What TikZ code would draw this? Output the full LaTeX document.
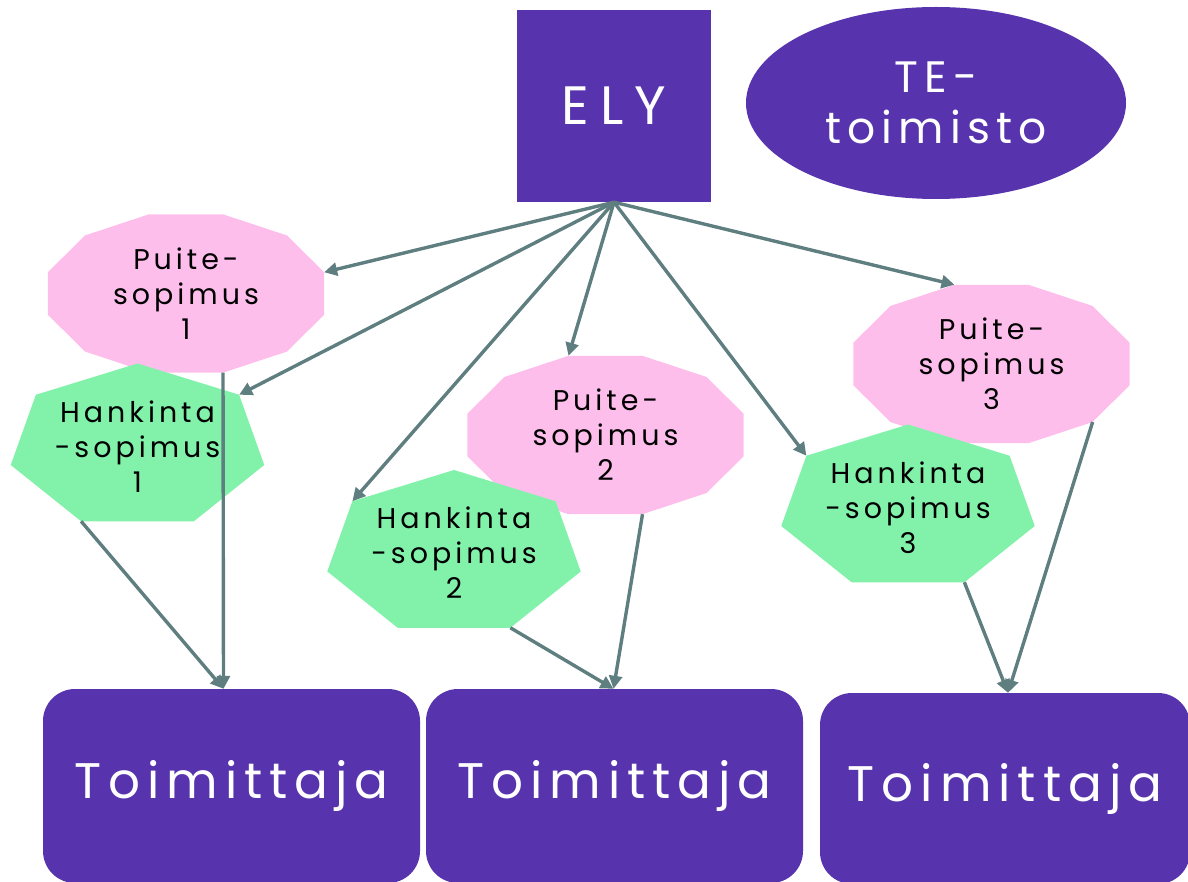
\documentclass[tikz,border=0pt]{standalone}
\usepackage{fontspec}
\setmainfont{Poppins}[LetterSpace=14]
\newfontfamily\elyfont{Poppins}[LetterSpace=20]
\usetikzlibrary{calc,arrows.meta,backgrounds,shapes.geometric}
\definecolor{purplec}{RGB}{87,52,173}
\definecolor{pinkc}{RGB}{253,190,236}
\definecolor{greenc}{RGB}{130,242,170}
\definecolor{linec}{RGB}{95,126,128}
\tikzset{
  darkbox/.style={fill=purplec, text=white, inner sep=0pt, align=center},
  bigtext/.style={font=\fontsize{50}{60}\selectfont},
  smalltext/.style={font=\fontsize{28.5}{35}\selectfont, align=center, inner sep=0pt, text=black},
  conn/.style={draw=linec, line width=3.4pt, -{Triangle[length=13pt,width=13pt]}},
}
\begin{document}
\begin{tikzpicture}[x=1pt,y=-1pt]
\useasboundingbox (0,0) rectangle (1188,882);
% top
\node[darkbox, font=\elyfont\fontsize{54}{60}\selectfont, minimum width=194, minimum height=192] (ely) at (614,106) {ELY};
\node[darkbox, ellipse, minimum width=380, minimum height=192, font=\fontsize{44}{51}\selectfont] (te) at (936,103) {TE-\\toimisto};
% suppliers
\node[darkbox, bigtext, rounded corners=32, minimum width=377, minimum height=194] (t1) at (231.5,786) {Toimittaja};
\node[darkbox, bigtext, rounded corners=32, minimum width=377, minimum height=194] (t2) at (614.5,786) {Toimittaja};
\node[darkbox, bigtext, rounded corners=32, minimum width=370, minimum height=191] (t3) at (1005,788.5) {Toimittaja};
% contracts (text nodes at shape centres)
\node[smalltext] (p1) at (186,293.5) {Puite-\\sopimus\\1};
\node[smalltext] (p2) at (605.5,435) {Puite-\\sopimus\\2};
\node[smalltext] (p3) at (991.5,364) {Puite-\\sopimus\\3};
\node[smalltext] (h1) at (137.5,446.5) {Hankinta\\-sopimus\\1};
\node[smalltext] (h2) at (454,553) {Hankinta\\-sopimus\\2};
\node[smalltext] (h3) at (908,507.5) {Hankinta\\-sopimus\\3};
% shape vertices
\foreach \n in {p1,p2,p3} {
  \foreach \a in {15,45,...,345} {
    \coordinate (\n-\a) at ($(\n.center)+(\a:143 and 82)$);
  }
}
\foreach \n in {h1,h2,h3} {
  \foreach \a [count=\k] in {270,321.43,12.86,64.29,115.71,167.14,218.57} {
    \coordinate (\n-v\k) at ($(\n.center)+(\a:130 and 83)$);
  }
}
\begin{scope}[on background layer]
  \foreach \n in {p1,p2,p3} {
    \fill[pinkc] (\n-15) -- (\n-45) -- (\n-75) -- (\n-105) -- (\n-135) -- (\n-165)
      -- (\n-195) -- (\n-225) -- (\n-255) -- (\n-285) -- (\n-315) -- (\n-345) -- cycle;
  }
  \foreach \n in {h1,h2,h3} {
    \fill[greenc] (\n-v1) -- (\n-v2) -- (\n-v3) -- (\n-v4) -- (\n-v5) -- (\n-v6) -- (\n-v7) -- cycle;
  }
\end{scope}
% connectors from ELY
\draw[conn] (ely.south) -- (p1-345);
\draw[conn] (ely.south) -- (h1-v2);
\draw[conn] (ely.south) -- (h2-v7);
\draw[conn] (ely.south) -- (p2-255);
\draw[conn] (ely.south) -- (h3-v7);
\draw[conn] (ely.south) -- (p3-255);
% connectors to suppliers
\draw[conn] (p1-75) -- ([xshift=-8pt]t1.north);
\draw[conn] (h1-v5) -- ([xshift=-8pt]t1.north);
\draw[conn] (p2-75) -- ([xshift=-1pt]t2.north);
\draw[conn] (h2-v4) -- ([xshift=-1pt]t2.north);
\draw[conn] (p3-45) -- ([xshift=3pt]t3.north);
\draw[conn] (h3-v4) -- ([xshift=3pt]t3.north);
\end{tikzpicture}
\end{document}
